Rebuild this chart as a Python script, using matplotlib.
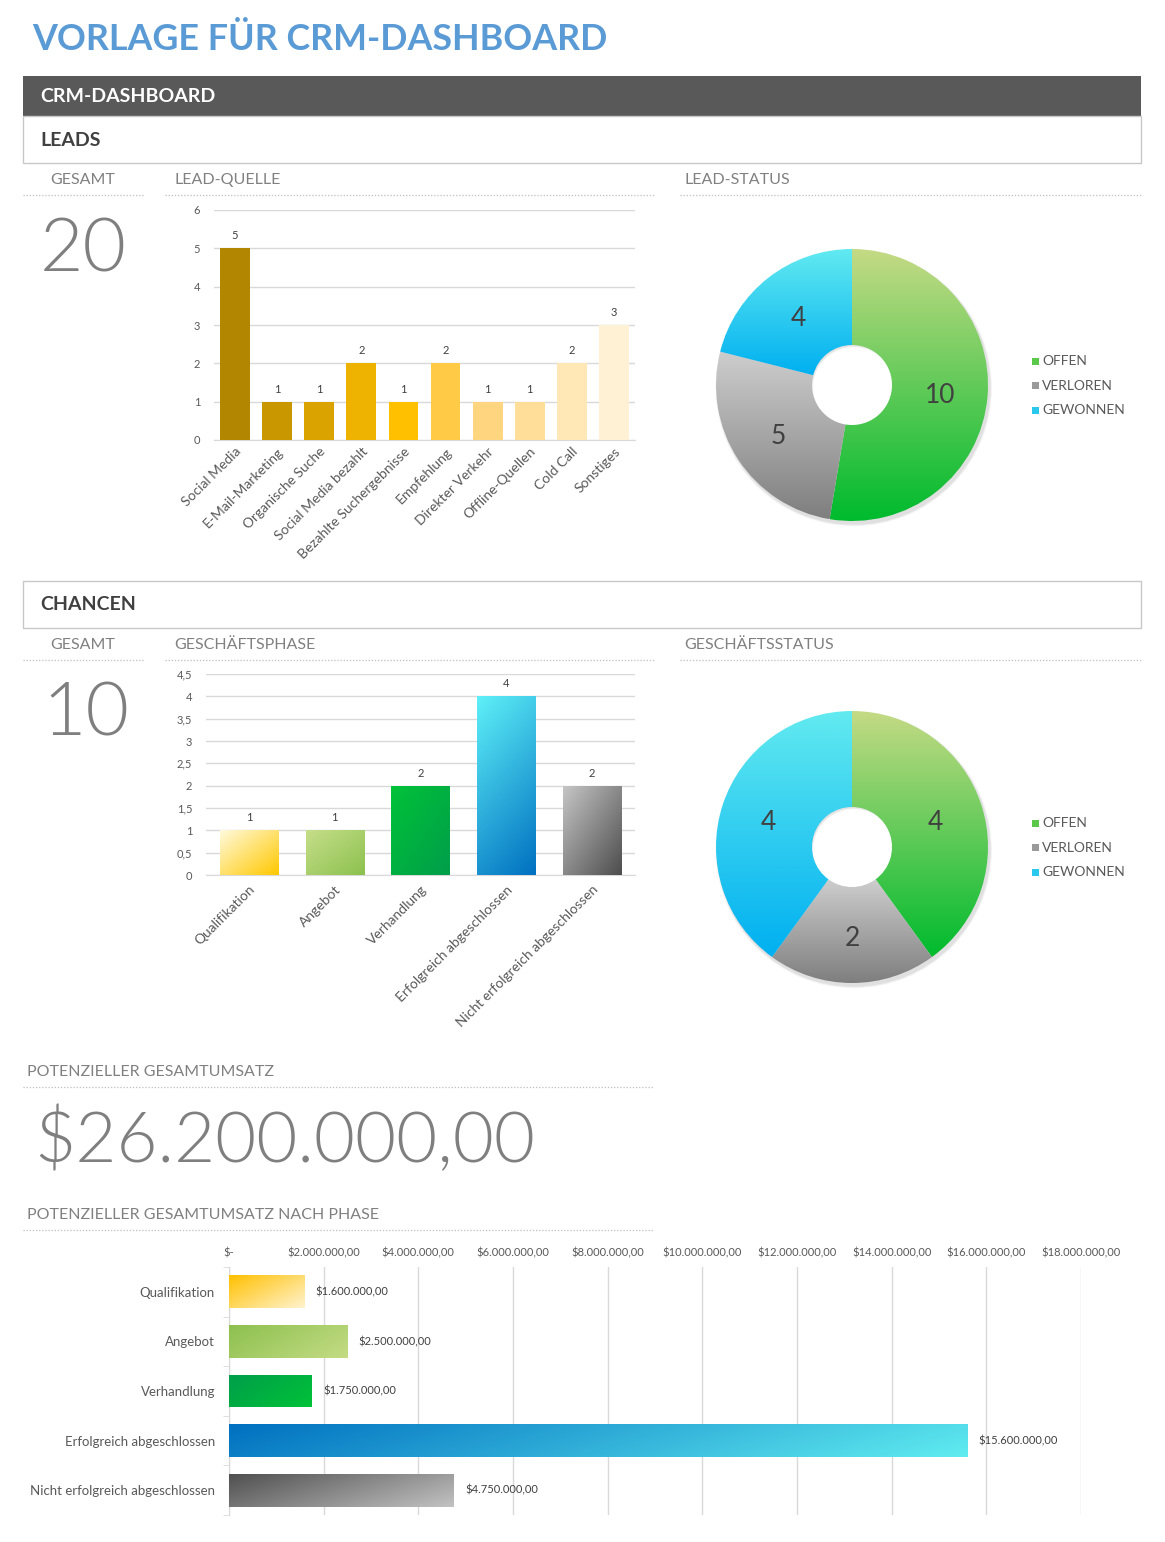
import numpy as np
import matplotlib
matplotlib.use("Agg")
import matplotlib.pyplot as plt
from matplotlib.patches import Rectangle, Wedge
from matplotlib.colors import to_rgb

plt.rcParams['font.family'] = ['Lato', 'DejaVu Sans']

# ---- data ----
lead_total = 20
lead_sources = ["Social Media", "E-Mail-Marketing", "Organische Suche",
                "Social Media bezahlt", "Bezahlte Suchergebnisse", "Empfehlung",
                "Direkter Verkehr", "Offline-Quellen", "Cold Call", "Sonstiges"]
lead_counts = [5, 1, 1, 2, 1, 2, 1, 1, 2, 3]
lead_colors = ["#B38600", "#C99700", "#DBA300", "#EEB200", "#FFC000",
               "#FFCB47", "#FFD57F", "#FFDE9A", "#FFE8B5", "#FFF1D4"]

status_labels = ["OFFEN", "VERLOREN", "GEWONNEN"]
lead_status = [10, 5, 4]
deal_status = [4, 2, 4]
# (bottom colour, top colour) for the donut wedges
status_grad = [("#00BB2E", "#C4DA84"), ("#7F7F7F", "#CDCDCD"), ("#00B0F0", "#62EAF0")]
legend_colors = ["#5CC84A", "#9A9A9A", "#2BC8EE"]

deal_total = 10
phases = ["Qualifikation", "Angebot", "Verhandlung",
          "Erfolgreich abgeschlossen", "Nicht erfolgreich abgeschlossen"]
phase_counts = [1, 1, 2, 4, 2]
revenue_total = 26200000
phase_revenue = [1600000, 2500000, 1750000, 15600000, 4750000]
# column gradients: (start colour, end colour, angle)
phase_col_grad = [("#FFFADC", "#FFC800", -45), ("#C6DE8A", "#8CC14E", -45),
                  ("#00C238", "#009E4A", -45), ("#5EF0F8", "#0070C0", -70),
                  ("#C6C6C6", "#4D4D4D", -45)]
phase_bar_grad = [("#FFC000", "#FFF3CF", 40), ("#8DC04F", "#C4DC84", 25),
                  ("#009E4A", "#00C238", 30), ("#0070C0", "#60ECF0", 8),
                  ("#505050", "#C2C2C2", 25)]

W, H = 1165, 1542
GREY_TXT = "#808080"
TICK = "#595959"
GRID = "#D9D9D9"


def money(v):
    if v == 0:
        return "$-"
    s = "{:,.2f}".format(v)
    return "$" + s.replace(",", "X").replace(".", ",").replace("X", ".")


def add_ax(x0, y0, x1, y1):
    return fig.add_axes([x0 / W, 1 - y1 / H, (x1 - x0) / W, (y1 - y0) / H])


def grad_fill(ax, patch, c0, c1, angle, box):
    x0, x1, y0, y1 = box
    n = 80
    g = np.linspace(0, 1, n)
    X, Y = np.meshgrid(g, g)
    a = np.radians(angle)
    t = X * np.cos(a) + Y * np.sin(a)
    t = (t - t.min()) / (t.max() - t.min())
    c0 = np.array(to_rgb(c0))
    c1 = np.array(to_rgb(c1))
    img = c0 + t[..., None] * (c1 - c0)
    im = ax.imshow(img, extent=[x0, x1, y0, y1], origin="lower", aspect="auto",
                   interpolation="bilinear", zorder=patch.get_zorder())
    im.set_clip_path(patch)
    patch.set_facecolor("none")
    patch.set_edgecolor("none")


fig = plt.figure(figsize=(W / 100, H / 100), dpi=100)
fig.patch.set_facecolor("white")

bg = fig.add_axes([0, 0, 1, 1])
bg.set_xlim(0, W)
bg.set_ylim(H, 0)
bg.axis("off")

# title and headers
bg.text(32, 39, "VORLAGE FÜR CRM-DASHBOARD", fontsize=25.8, fontweight="bold",
        color="#5B9BD5", va="center", ha="left")
bg.add_patch(Rectangle((23, 76), 1118, 40, fc="#595959", ec="none"))
bg.text(40, 97, "CRM-DASHBOARD", fontsize=14, fontweight="bold", color="white", va="center")

for ytop, name in [(116, "LEADS"), (581, "CHANCEN")]:
    bg.add_patch(Rectangle((23, ytop), 1118, 47, fc="white", ec="#C8C8C8", lw=1))
    bg.text(40, ytop + 24, name, fontsize=14, fontweight="bold", color="#404040", va="center")


def dotted(x0, x1, y):
    bg.plot([x0, x1], [y, y], color="#BFBFBF", lw=0.9, ls=(0, (1, 1.5)))


for ylab, labels in [(179, ("LEAD-QUELLE", "LEAD-STATUS")),
                     (644, ("GESCHÄFTSPHASE", "GESCHÄFTSSTATUS"))]:
    bg.text(83, ylab + 1, "GESAMT", fontsize=11.5, color=GREY_TXT, va="center", ha="center")
    bg.text(174, ylab + 1, labels[0], fontsize=11.5, color=GREY_TXT, va="center")
    bg.text(684, ylab + 1, labels[1], fontsize=11.5, color=GREY_TXT, va="center")
    dotted(23, 143, ylab + 16)
    dotted(165, 654, ylab + 16)
    dotted(680, 1141, ylab + 16)

bg.text(83, 251, str(lead_total), fontsize=54, fontweight=300,
        color="#7F7F7F", va="center", ha="center")
bg.text(86, 715, str(deal_total), fontsize=54, fontweight=300,
        color="#7F7F7F", va="center", ha="center")

bg.text(27, 1072, "POTENZIELLER GESAMTUMSATZ", fontsize=11.5, color=GREY_TXT, va="center")
dotted(23, 654, 1087)
bg.text(34, 1141, money(revenue_total), fontsize=51, fontweight=300,
        color="#7F7F7F", va="center", ha="left")
bg.text(27, 1215, "POTENZIELLER GESAMTUMSATZ NACH PHASE", fontsize=11.5, color=GREY_TXT, va="center")
dotted(23, 654, 1230)


def style_cols(ax):
    for s in ["left", "right", "top"]:
        ax.spines[s].set_visible(False)
    ax.spines["bottom"].set_color(GRID)
    ax.grid(axis="y", color=GRID, lw=1)
    ax.set_axisbelow(True)
    ax.tick_params(length=0, colors=TICK)
    ax.tick_params(axis="y", labelsize=8, pad=10)
    ax.tick_params(axis="x", labelsize=10)
    ax.patch.set_alpha(0)


# ---- lead sources ----
ax1 = add_ax(214, 210, 635, 440)
x = np.arange(len(lead_sources))
bars = ax1.bar(x, lead_counts, width=0.71, color=lead_colors, zorder=3)
for b, v in zip(bars, lead_counts):
    ax1.annotate(str(v), (b.get_x() + b.get_width() / 2, v), xytext=(0, 5),
                 textcoords="offset points", ha="center", va="bottom", fontsize=8, color="#404040")
ax1.set_xlim(-0.5, len(lead_sources) - 0.5)
ax1.set_ylim(0, 6)
ax1.set_yticks(range(7))
ax1.set_xticks(x)
ax1.set_xticklabels(lead_sources, rotation=45, ha="right", rotation_mode="anchor")
style_cols(ax1)
ax1.tick_params(axis="x", pad=4)


# ---- donuts ----
def donut(cx, cy, values, leg_y):
    R = 150
    ax = add_ax(cx - R, cy - R, cx + R, cy + R)
    r = 136 / R
    hole = 40 / R
    for k, al in enumerate([0.05, 0.04, 0.03]):
        ax.add_patch(Wedge((0.012, -0.02), r + 0.005 * (k + 1), 0, 360, width=r - hole,
                           fc="black", alpha=al, ec="none", zorder=0))
    wedges, _ = ax.pie(values, startangle=90, counterclock=False, radius=r,
                       wedgeprops=dict(width=r - hole, zorder=2))
    total = sum(values)
    ang = 90.0
    for w, v, (c0, c1) in zip(wedges, values, status_grad):
        e = w.get_path().get_extents()
        grad_fill(ax, w, c0, c1, 90, (e.x0, e.x1, e.y0, e.y1))
        mid = np.radians(ang - v / total * 180)
        ang -= v / total * 360
        rr = (r + hole) / 2
        ax.text(rr * np.cos(mid), rr * np.sin(mid) - 0.02, str(v), fontsize=19,
                color="#404040", ha="center", va="center", zorder=5)
    ax.set_xlim(-1, 1)
    ax.set_ylim(-1, 1)
    ax.set_aspect("equal")
    ax.axis("off")
    for i, (lab, col) in enumerate(zip(status_labels, legend_colors)):
        yy = leg_y + i * 24.5
        bg.add_patch(Rectangle((1032, yy - 3.5), 7, 7, fc=col, ec="none"))
        bg.text(1042, yy, lab, fontsize=10, color=TICK, va="center")


donut(852, 385, lead_status, 361)
donut(852, 847, deal_status, 823)

# ---- deal phases (columns) ----
ax2 = add_ax(206, 674, 635, 875)
x2 = np.arange(len(phases))
cols = ax2.bar(x2, phase_counts, width=0.68, zorder=3)
for b, v, (c0, c1, a) in zip(cols, phase_counts, phase_col_grad):
    grad_fill(ax2, b, c0, c1, a, (b.get_x(), b.get_x() + b.get_width(), 0, v))
    ax2.annotate(str(v), (b.get_x() + b.get_width() / 2, v), xytext=(0, 5),
                 textcoords="offset points", ha="center", va="bottom", fontsize=8, color="#404040")
ax2.set_xlim(-0.5, len(phases) - 0.5)
ax2.set_ylim(0, 4.5)
yt = np.arange(0, 4.51, 0.5)
ax2.set_yticks(yt)
ax2.set_yticklabels(["{:g}".format(v).replace(".", ",") for v in yt])
ax2.set_xticks(x2)
ax2.set_xticklabels(phases, rotation=45, ha="right", rotation_mode="anchor")
style_cols(ax2)
ax2.tick_params(axis="x", pad=6)

# ---- revenue by phase (horizontal) ----
ax3 = add_ax(229, 1267, 1081, 1515)
y3 = np.arange(len(phases))
hb = ax3.barh(y3, phase_revenue, height=0.66, zorder=3)
for b, v, (c0, c1, a) in zip(hb, phase_revenue, phase_bar_grad):
    grad_fill(ax3, b, c0, c1, a, (0, v, b.get_y(), b.get_y() + b.get_height()))
    ax3.annotate(money(v), (v, b.get_y() + b.get_height() / 2), xytext=(8, 0),
                 textcoords="offset points", ha="left", va="center", fontsize=8, color="#404040")
ax3.set_xlim(0, 18000000)
ax3.set_ylim(len(phases) - 0.5, -0.5)
xt = np.arange(0, 18000001, 2000000)
ax3.set_xticks(xt)
ax3.set_xticklabels([money(v) for v in xt])
ax3.xaxis.tick_top()
ax3.set_yticks(y3)
ax3.set_yticklabels(phases, fontsize=9.5)
ax3.set_yticks(np.arange(-0.5, len(phases)), minor=True)
ax3.tick_params(axis="x", length=0, colors=TICK, labelsize=8, pad=6)
ax3.tick_params(axis="y", which="major", length=0, colors=TICK, pad=10)
ax3.tick_params(axis="y", which="minor", length=4, color=GRID)
for s in ["right", "top", "bottom"]:
    ax3.spines[s].set_visible(False)
ax3.spines["left"].set_color(GRID)
ax3.grid(axis="x", color=GRID, lw=1)
ax3.set_axisbelow(True)
ax3.patch.set_alpha(0)

fig.savefig("out.png", dpi=100, facecolor="white")
